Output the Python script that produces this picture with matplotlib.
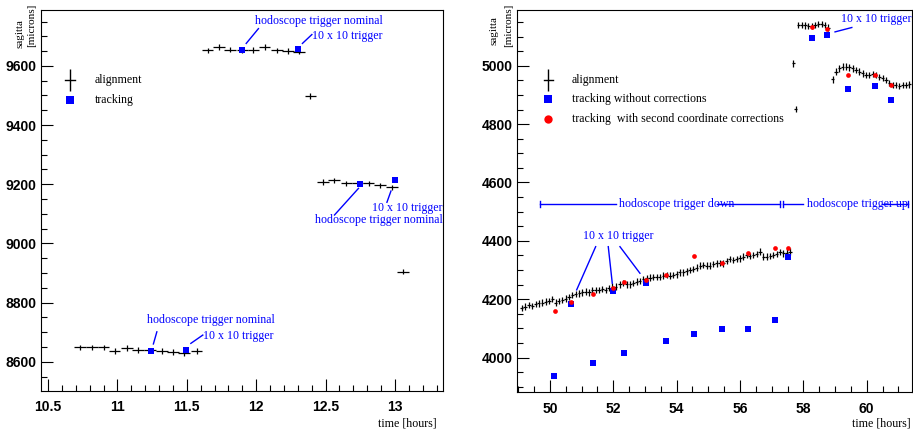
import numpy as np
import matplotlib
matplotlib.use('Agg')
import matplotlib.pyplot as plt
from matplotlib.ticker import MultipleLocator

## --- left panel data : sagitta vs time (hours 10.5 - 13.3)
al_t_left = [10.73, 10.815, 10.90, 10.98, 11.07, 11.15, 11.235, 11.32, 11.40, 11.48, 11.57,
             11.65, 11.73, 11.81, 11.90, 11.98, 12.06, 12.15, 12.23, 12.31,
             12.39,
             12.48, 12.56, 12.65, 12.73, 12.81, 12.89, 12.98,
             13.06]
al_s_left = [8649, 8649, 8649, 8636, 8646, 8640, 8638, 8636, 8633, 8628, 8636,
             9653, 9664, 9655, 9654, 9654, 9664, 9653, 9650, 9648,
             9498,
             9208, 9213, 9203, 9203, 9203, 9196, 9189,
             8904]
tr_t_left = [11.245, 11.495, 11.90, 12.30, 12.745, 12.997]
tr_s_left = [8637, 8640, 9653, 9656, 9201, 9214]

## --- right panel data : sagitta vs time (hours 49 - 61.4)
al_t_right = [49.11, 49.21, 49.34, 49.44, 49.55, 49.65, 49.76, 49.86, 49.97, 50.07,
              50.18, 50.28, 50.39, 50.50, 50.60, 50.71, 50.81, 50.92, 51.02, 51.13,
              51.23, 51.34, 51.44, 51.55, 51.65, 51.76, 51.86, 51.97,
              52.08, 52.21, 52.32, 52.42, 52.53, 52.63, 52.74, 52.84, 52.95, 53.05,
              53.16, 53.26, 53.37, 53.47, 53.58, 53.68, 53.79, 53.89, 54.00, 54.10,
              54.21, 54.32, 54.42, 54.53, 54.63, 54.74, 54.84, 54.95,
              55.05, 55.16, 55.26, 55.37, 55.47, 55.58, 55.68, 55.79, 55.89, 56.00,
              56.10, 56.21, 56.31, 56.42, 56.53, 56.63, 56.74, 56.84, 56.95, 57.05,
              57.16, 57.26, 57.37, 57.47, 57.58,
              57.68, 57.76,
              57.84, 57.95, 58.05, 58.16, 58.26, 58.37, 58.47, 58.58, 58.68, 58.79,
              58.93, 59.03, 59.14, 59.24, 59.35, 59.45, 59.56, 59.66, 59.77, 59.87,
              59.98, 60.08, 60.19, 60.29, 60.40, 60.50, 60.61, 60.71, 60.82, 60.92,
              61.03, 61.14, 61.24, 61.35]
al_s_right = [4169, 4175, 4180, 4177, 4184, 4186, 4188, 4192, 4194, 4200,
              4188, 4194, 4198, 4202, 4207, 4214, 4217, 4220, 4223, 4226,
              4223, 4230, 4232, 4232, 4234, 4232, 4238, 4243,
              4243, 4251, 4255, 4251, 4251, 4255, 4260, 4263, 4268, 4272,
              4274, 4277, 4277, 4276, 4281, 4283, 4281, 4283, 4285, 4292,
              4292, 4295, 4300, 4304, 4308, 4315, 4317, 4315,
              4315, 4320, 4323, 4325, 4323, 4331, 4338, 4335, 4338, 4340,
              4346, 4352, 4349, 4352, 4354, 4363, 4346, 4346, 4349, 4352,
              4354, 4361, 4357, 4360, 4363,
              5008, 4851,
              5139, 5139, 5138, 5137, 5136, 5139, 5143, 5143, 5139, 5131,
              4953, 4980, 4991, 4997, 4997, 4994, 4991, 4985, 4980, 4974,
              4968, 4968, 4972, 4968, 4962, 4957, 4951, 4940, 4934, 4934,
              4930, 4934, 4934, 4936]
trno_t = [50.14, 50.66, 51.35, 52.00, 52.35, 53.02, 53.65, 54.54, 55.43, 56.26, 57.10, 57.51,
          58.26, 58.74, 59.42, 60.26, 60.77]
trno_s = [3938, 4183, 3982, 4227, 4014, 4255, 4057, 4080, 4099, 4099, 4129, 4346,
          5096, 5107, 4920, 4932, 4883]
trco_t = [50.16, 50.67, 51.35, 52.00, 52.35, 53.02, 53.65, 54.54, 55.43, 56.26, 57.10, 57.51,
          58.26, 58.76, 59.42, 60.26, 60.77]
trco_s = [4160, 4192, 4217, 4238, 4260, 4266, 4284, 4348, 4325, 4360, 4375, 4375,
          5134, 5125, 4968, 4968, 4934]


W, H = 913, 434
fig = plt.figure(figsize=(W/100., H/100.), dpi=100)

def box(x0, y0, x1, y1):
    ## pixel box (top-left origin) -> figure fraction
    return [x0/W, 1-y1/H, (x1-x0)/W, (y1-y0)/H]

ax1 = fig.add_axes(box(40.7, 10, 443, 390.7))
ax2 = fig.add_axes(box(516.7, 10, 912, 392.3))

serif  = 'Liberation Serif'
tfont  = 8.6
blue   = '#0000ff'
lw     = 0.8

for ax in (ax1, ax2):
    for s in ax.spines.values():
        s.set_linewidth(lw)
    ax.tick_params(which='both', direction='in', top=False, right=False, width=lw)
    ax.tick_params(which='major', length=8.5)
    ax.tick_params(which='minor', length=4)
    ax.tick_params('x', which='major', pad=7)
    ax.tick_params('y', which='major', pad=3)

##
##  left panel
##
ax1.errorbar(al_t_left, al_s_left, xerr=0.042, yerr=9, fmt='none', ecolor='k', elinewidth=0.9, capsize=0)
ax1.plot(tr_t_left, tr_s_left, 's', color=blue, ms=4.6, mew=0)
ax1.set_xlim(10.447, 13.346)
ax1.set_ylim(8502, 9789)
ax1.xaxis.set_major_locator(MultipleLocator(0.5))
ax1.xaxis.set_minor_locator(MultipleLocator(0.1))
ax1.yaxis.set_major_locator(MultipleLocator(200))
ax1.yaxis.set_minor_locator(MultipleLocator(50))
ax1.set_xticks([10.5, 11, 11.5, 12, 12.5, 13])
ax1.set_xticklabels(['10.5', '11', '11.5', '12', '12.5', '13'])

## annotations
ann_l = [(11.992, 9752, 'hodoscope trigger nominal', (11.928, 9676), (12.016, 9726)),
         (12.401, 9700, '10 x 10 trigger', (12.333, 9676), (12.401, 9706)),
         (12.834, 9118, '10 x 10 trigger', (12.942, 9139), (12.971, 9177)),
         (12.425, 9079, 'hodoscope trigger nominal', (12.564, 9096), (12.737, 9186)),
         (11.212, 8741, 'hodoscope trigger nominal', (11.259, 8660), (11.284, 8701)),
         (11.620, 8687, '10 x 10 trigger', (11.529, 8662), (11.615, 8690))]
for tx, ty, txt, p0, p1 in ann_l:
    ax1.text(tx, ty, txt, color=blue, fontsize=tfont, family=serif, ha='left', va='center')
    ax1.plot([p0[0], p1[0]], [p0[1], p1[1]], color=blue, lw=1.0)

## legend
ax1.errorbar([0.073], [0.816], yerr=[0.028], xerr=[0.0], fmt='none', ecolor='k', elinewidth=1.0, transform=ax1.transAxes)
ax1.plot([0.061, 0.085], [0.816, 0.816], color='k', lw=1.0, transform=ax1.transAxes)
ax1.plot([0.073], [0.7636], 's', color=blue, ms=6.2, mew=0, transform=ax1.transAxes)
ax1.text(0.135, 0.816, 'alignment', family=serif, fontsize=tfont, va='center', transform=ax1.transAxes)
ax1.text(0.135, 0.7636, 'tracking', family=serif, fontsize=tfont, va='center', transform=ax1.transAxes)

##
##  right panel
##
ax2.errorbar(al_t_right, al_s_right, xerr=0.05, yerr=11, fmt='none', ecolor='k', elinewidth=0.9, capsize=0)
ax2.plot(trno_t, trno_s, 's', color=blue, ms=4.6, mew=0, zorder=3)
ax2.plot(trco_t, trco_s, 'o', color='#ff0000', ms=3.4, mew=0, zorder=4)
ax2.set_xlim(48.95, 61.43)
ax2.set_ylim(3881, 5191)
ax2.xaxis.set_major_locator(MultipleLocator(2))
ax2.xaxis.set_minor_locator(MultipleLocator(0.5))
ax2.yaxis.set_major_locator(MultipleLocator(200))
ax2.yaxis.set_minor_locator(MultipleLocator(50))

ann_r = [(51.05, 4417, [((51.443, 4380), (50.843, 4232)),
                        ((51.841, 4380), (51.967, 4255)),
                        ((52.21, 4380), (52.84, 4289))]),
         (59.19, 5160, [((59.0, 5116), (59.53, 5131))])]
for tx, ty, segs in ann_r:
    ax2.text(tx, ty, '10 x 10 trigger', color=blue, fontsize=tfont, family=serif, ha='left', va='center')
    for p0, p1 in segs:
        ax2.plot([p0[0], p1[0]], [p0[1], p1[1]], color=blue, lw=1.0)

## trigger periods
yh = 4526
for a, b in [(49.68, 52.10), (55.26, 57.26), (57.37, 58.0), (60.47, 61.29)]:
    ax2.plot([a, b], [yh, yh], color=blue, lw=1.0, clip_on=False)
for xb in [49.68, 57.26, 57.37, 61.29]:
    ax2.plot([xb, xb], [yh-10, yh+10], color=blue, lw=1.0, clip_on=False)
ax2.text(54.01, yh, 'hodoscope trigger down', color=blue, fontsize=tfont, family=serif, ha='center', va='center')
ax2.text(58.12, yh, 'hodoscope trigger up', color=blue, fontsize=tfont, family=serif, ha='left', va='center')

## legend
ax2.errorbar([0.080], [0.817], yerr=[0.028], fmt='none', ecolor='k', elinewidth=1.0, transform=ax2.transAxes)
ax2.plot([0.069, 0.091], [0.817, 0.817], color='k', lw=1.0, transform=ax2.transAxes)
ax2.plot([0.080], [0.7672], 's', color=blue, ms=6.2, mew=0, transform=ax2.transAxes)
ax2.plot([0.080], [0.7149], 'o', color='#ff0000', ms=6.0, mew=0, transform=ax2.transAxes)
ax2.text(0.139, 0.817, 'alignment', family=serif, fontsize=tfont, va='center', transform=ax2.transAxes)
ax2.text(0.139, 0.7672, 'tracking without corrections', family=serif, fontsize=tfont, va='center', transform=ax2.transAxes)
ax2.text(0.139, 0.7149, 'tracking  with second coordinate corrections', family=serif, fontsize=tfont, va='center', transform=ax2.transAxes)

## tick label fonts
for ax in (ax1, ax2):
    for lab in ax.get_xticklabels() + ax.get_yticklabels():
        lab.set_family('Liberation Sans')
        lab.set_fontweight('bold')
        lab.set_fontsize(10)

## axis titles (ROOT style)
fig.text(20/W, 1-48/H, 'sagitta', rotation=90, ha='center', va='bottom', family=serif, fontsize=8)
fig.text(31.7/W, 1-47/H, '[microns]', rotation=90, ha='center', va='bottom', family=serif, fontsize=8)
fig.text(494.3/W, 1-45/H, 'sagitta', rotation=90, ha='center', va='bottom', family=serif, fontsize=8)
fig.text(508.3/W, 1-46.7/H, '[microns]', rotation=90, ha='center', va='bottom', family=serif, fontsize=8)
fig.text(437/W, 1-424/H, 'time [hours]', ha='right', va='center', family=serif, fontsize=tfont)
fig.text(911/W, 1-423.3/H, 'time [hours]', ha='right', va='center', family=serif, fontsize=tfont)

plt.savefig('out.png', dpi=100)
plt.close(fig)
